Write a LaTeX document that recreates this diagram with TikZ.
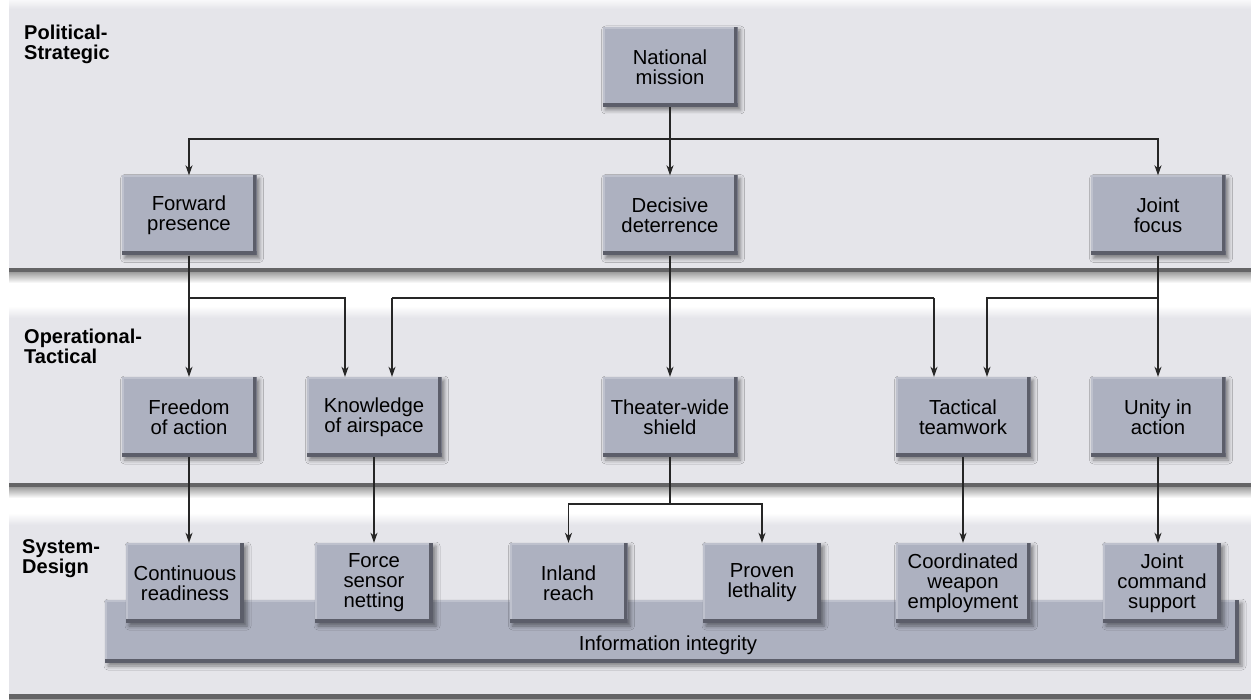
\documentclass[tikz,border=0pt]{standalone}
\usepackage{fontspec}
\setmainfont{Liberation Sans}
\usetikzlibrary{arrows.meta,positioning,shadows.blur}

\definecolor{bandgray}{RGB}{229,229,234}
\definecolor{boxgray}{RGB}{173,177,192}
\definecolor{boxdark}{RGB}{92,94,106}
\definecolor{boxlight}{RGB}{190,193,205}
\definecolor{bandline}{RGB}{100,100,102}

\newcommand\boxfont{\fontsize{20.3}{20}\selectfont}
\newcommand\tierfont{\fontsize{20}{20}\selectfont\bfseries}

\begin{document}
\begin{tikzpicture}[x=1pt,y=-1pt,on grid,
  box/.style={rectangle,fill=boxgray,minimum width=135pt,minimum height=80pt,inner sep=0pt,align=center,font=\boxfont,
    blur shadow={shadow xshift=3pt,shadow yshift=-3pt,shadow blur radius=4pt,shadow opacity=45},
    path picture={
      \fill[boxlight] (path picture bounding box.north west) rectangle ([yshift=-2pt]path picture bounding box.north east);
      \fill[boxlight] (path picture bounding box.south west) rectangle ([xshift=2pt]path picture bounding box.north west);
      \fill[boxdark] (path picture bounding box.south west) rectangle ([yshift=4pt]path picture bounding box.south east);
      \fill[boxdark] ([xshift=-4pt]path picture bounding box.south east) rectangle (path picture bounding box.north east);}},
  lowbox/.style={box,minimum width=118pt},
  tier/.style={anchor=north west,inner sep=0pt,align=left,font=\tierfont},
  arr/.style={-{Stealth[length=10pt,width=7pt,inset=3pt]},line width=1.1pt,draw=black!85},
  link/.style={line width=1.1pt,draw=black!85}]
	\useasboundingbox (0,0) rectangle (1251,700);

	% bands
	\foreach \ytop/\ybot in {9/273,318/488,525/699} {
		\shade[top color=white,bottom color=bandgray] (9,\ytop-12) rectangle (1251,\ytop);
		\fill[bandgray] (9,\ytop) rectangle (1251,\ybot);
		\fill[bandline] (9,\ybot-5) rectangle (1251,\ybot);
		\shade[top color=black!35,bottom color=white] (9,\ybot) rectangle (1251,\ybot+10);
	}
	\node[tier] (ps) at (24,25) {Political-\\Strategic};
	\node[tier] (ot) at (24,329) {Operational-\\Tactical};
	\node[tier] (sd) at (22,539) {System-\\Design};

	% information bar
	\node[box,minimum width=1134pt,minimum height=63pt] (info) at (672,631.5) {};
	\node[font=\boxfont,anchor=base] (infotext) at (668,650) {Information integrity};

	% boxes
	\node[box] (nat) at (670,67) {National\\mission};
	\node[box] (dec) [below=148.5pt of nat] {Decisive\\deterrence};
	\node[box] (fwd) [left=481pt of dec] {Forward\\presence};
	\node[box] (jnt) [right=488pt of dec] {Joint\\focus};
	\node[box] (the) [below=201.5pt of dec] {Theater-wide\\shield};
	\node[box] (fre) [left=481pt of the] {Freedom\\of action};
	\node[box] (kno) [left=296pt of the] {Knowledge\\of airspace};
	\node[box] (tac) [right=293pt of the] {Tactical\\teamwork};
	\node[box] (uni) [right=488pt of the] {Unity in\\action};
	\node[lowbox] (con) [below left=166pt and 4pt of fre] {Continuous\\readiness};
	\node[lowbox] (for) [below=166pt of kno] {Force\\sensor\\netting};
	\node[lowbox] (inl) [below left=166pt and 101.5pt of the] {Inland\\reach};
	\node[lowbox] (pro) [below right=166pt and 92pt of the] {Proven\\lethality};
	\node[box] (coo) [below=166pt of tac] {Coordinated\\weapon\\employment};
	\node[lowbox] (joi) [below right=166pt and 4pt of uni] {Joint\\command\\support};

	% connectors
	\coordinate (j0) at (670,139);
	\coordinate (fk) at (345,298);
	\coordinate (dk) at (392,298);
	\coordinate (dt) at (934,298);
	\coordinate (jt) at (987,298);
	\coordinate (ti) at (670,504);
	\draw[link] (nat) -- (j0);
	\draw[arr] (j0) -| (fwd);
	\draw[arr] (j0) -- (dec);
	\draw[arr] (j0) -| (jnt);
	\draw[arr] (fwd) -- (fre);
	\draw[arr] (fwd.south) |- (fk) -- (fk |- kno.north);
	\draw[arr] (dec) -- (the);
	\draw[link] (dk) -- (dt);
	\draw[arr] (dk) -- (dk |- kno.north);
	\draw[arr] (dt) -- (dt |- tac.north);
	\draw[arr] (jnt) -- (uni);
	\draw[arr] (jnt.south) |- (jt) -- (jt |- tac.north);
	\draw[arr] (fre.south) -- (fre.south |- con.north);
	\draw[arr] (kno.south) -- (kno.south |- for.north);
	\draw[link] (the) -- (ti);
	\draw[arr] (ti) -| (inl);
	\draw[arr] (ti) -| (pro);
	\draw[arr] (tac) -- (coo);
	\draw[arr] (uni.south) -- (uni.south |- joi.north);
\end{tikzpicture}
\end{document}
